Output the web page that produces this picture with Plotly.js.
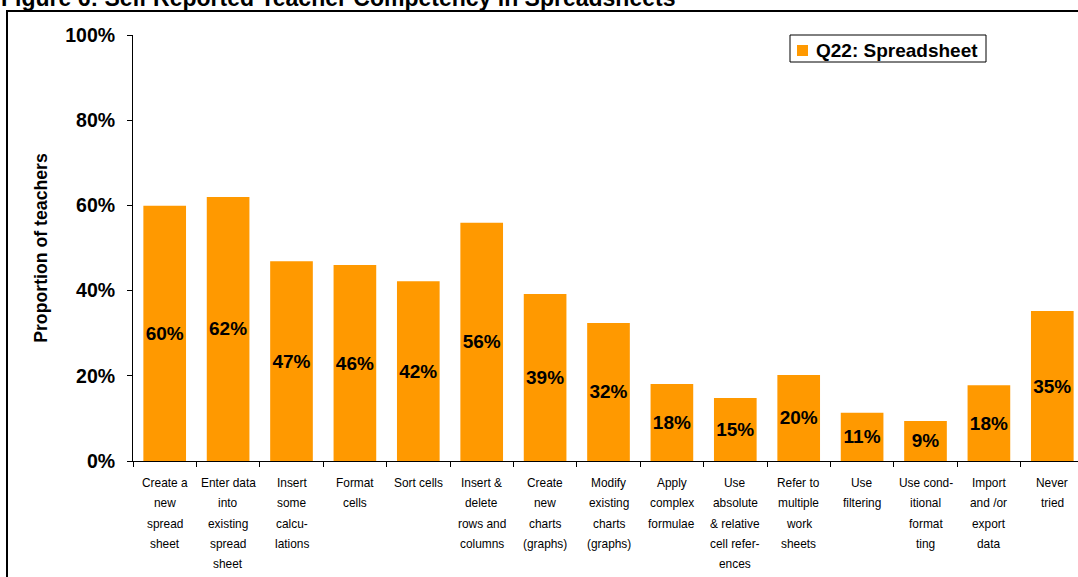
<!DOCTYPE html>
<html>
<head>
<meta charset="utf-8">
<script src="https://cdn.plot.ly/plotly-3.0.1.min.js"></script>
<style>html,body{margin:0;padding:0;background:#fff;}</style>
</head>
<body>
<div id="chart" style="width:1078px;height:577px;"></div>
<script>
const chartTitle = "Figure 6: Self Reported Teacher Competency in Spreadsheets";
const seriesName = "Q22: Spreadsheet";
const categories = [
  "Create a<br>new<br>spread<br>sheet",
  "Enter data<br>into<br>existing<br>spread<br>sheet",
  "Insert<br>some<br>calcu-<br>lations",
  "Format<br>cells",
  "Sort cells",
  "Insert &<br>delete<br>rows and<br>columns",
  "Create<br>new<br>charts<br>(graphs)",
  "Modify<br>existing<br>charts<br>(graphs)",
  "Apply<br>complex<br>formulae",
  "Use<br>absolute<br>& relative<br>cell refer-<br>ences",
  "Refer to<br>multiple<br>work<br>sheets",
  "Use<br>filtering",
  "Use cond-<br>itional<br>format<br>ting",
  "Import<br>and /or<br>export<br>data",
  "Never<br>tried"
];
const values = [59.9, 62.0, 46.9, 46.0, 42.2, 55.9, 39.2, 32.4, 18.1, 14.8, 20.2, 11.3, 9.4, 17.8, 35.2];
const yTickVals = [0, 20, 40, 60, 80, 100];
const yTickText = ["0%", "20%", "40%", "60%", "80%", "100%"];
const yTitle = "Proportion of teachers";

// geometry helpers (pixel -> paper)
const W = 1078, H = 577, L = 133, R = 0, T = 35, B = 116;
const pw = W - L - R, ph = H - T - B;
const px = x => (x - L) / pw;
const py = y => (H - B - y) / ph;

const FONT = "Liberation Sans, Arial, sans-serif";
const orange = "#FF9900";

const annotations = [];
// title (partially cut at top, as in reference)
annotations.push({
  text: chartTitle, xref: "paper", yref: "paper",
  x: px(0), y: py(-2), xanchor: "left", yanchor: "middle",
  showarrow: false, borderpad: 0,
  font: {family: FONT, size: 23, color: "#000", weight: "bold"}
});
// category labels, one annotation per line
categories.forEach((c, i) => {
  c.split("<br>").forEach((line, k) => {
    annotations.push({
      text: line, xref: "x", yref: "paper",
      x: i, y: py(487.3 + 20.2 * k - 4.05),
      xanchor: "center", yanchor: "middle", showarrow: false, borderpad: 0,
      font: {family: FONT, size: 11.9, color: "#000"}
    });
  });
});
// legend text
annotations.push({
  text: seriesName, xref: "paper", yref: "paper",
  x: px(815), y: py(50.5), xanchor: "left", yanchor: "middle",
  showarrow: false, borderpad: 0,
  font: {family: FONT, size: 19, color: "#000", weight: "bold"}
});

const shapes = [
  // outer frame
  {type: "rect", xref: "paper", yref: "paper", x0: px(7), x1: px(1100), y0: py(11), y1: py(600),
   line: {color: "#000", width: 2}, fillcolor: "rgba(0,0,0,0)", layer: "below"},
  // legend box
  {type: "rect", xref: "paper", yref: "paper", x0: px(790), x1: px(986), y0: py(35), y1: py(62),
   line: {color: "#000", width: 1}, fillcolor: "#fff"},
  // legend swatch
  {type: "rect", xref: "paper", yref: "paper", x0: px(797), x1: px(808), y0: py(45), y1: py(56),
   line: {width: 0}, fillcolor: orange}
];

const trace = {
  type: "bar",
  x: categories,
  y: values,
  name: seriesName,
  marker: {color: orange, line: {width: 0}},
  texttemplate: "%{y:.0f}%",
  textposition: "inside",
  insidetextanchor: "middle",
  textangle: 0,
  constraintext: "none",
  textfont: {family: FONT, size: 19, color: "#000", weight: "bold"},
  hoverinfo: "skip",
  showlegend: false
};

const layout = {
  width: W, height: H, autosize: false,
  margin: {l: L, r: R, t: T, b: B, pad: 0},
  paper_bgcolor: "#fff", plot_bgcolor: "#fff",
  bargap: 0.327,
  showlegend: false,
  uniformtext: {mode: "show", minsize: 19},
  font: {family: FONT, color: "#000"},
  xaxis: {
    type: "category",
    range: [-0.5, -0.5 + pw / 63.4],
    showline: true, linecolor: "#000", linewidth: 1,
    ticks: "outside", tickson: "boundaries", ticklen: 5, tickcolor: "#000", tickwidth: 1,
    showticklabels: false, showgrid: false, zeroline: false, fixedrange: true
  },
  yaxis: {
    range: [0, 100],
    tickmode: "array", tickvals: yTickVals, ticktext: yTickText,
    showline: true, linecolor: "#000", linewidth: 1,
    ticks: "outside", ticklen: 5, tickcolor: "#000", tickwidth: 1,
    ticklabelstandoff: 8,
    tickfont: {family: FONT, size: 19.5, color: "#000", weight: "bold"},
    showgrid: false, zeroline: false, fixedrange: true,
    title: {text: yTitle, standoff: 13, font: {family: FONT, size: 17.7, color: "#000", weight: "bold"}}
  },
  annotations: annotations,
  shapes: shapes
};

Plotly.newPlot("chart", [trace], layout, {displayModeBar: false, staticPlot: true});
</script>
</body>
</html>
